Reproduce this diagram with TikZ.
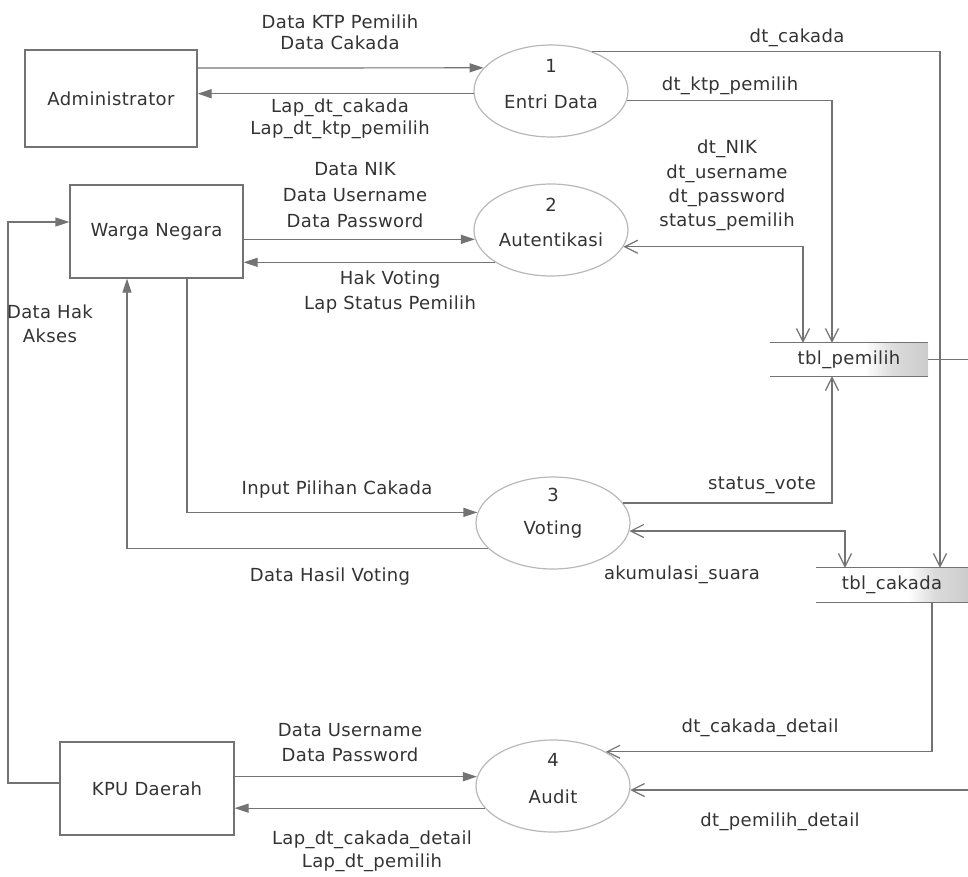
\documentclass[tikz,border=0pt]{standalone}
\usepackage{fontspec}
\setmainfont[LetterSpace=2]{DejaVu Sans}
\usetikzlibrary{arrows.meta,shapes.geometric}
% white body fading to grey at the right end of a data store
% (TikZ maps the node onto the middle 25bp--75bp of the shading)
\pgfdeclarehorizontalshading{storeshade}{100bp}{color(0bp)=(white); color(25bp)=(white); color(55bp)=(white); color(64bp)=(black!14); color(75bp)=(black!20); color(100bp)=(black!20)}
\begin{document}
\begin{tikzpicture}[x=1pt,y=-1pt,
  ftip/.tip={Triangle[length=14pt,width=9pt]},
  otip/.tip={Straight Barb[length=13pt,width=13pt]},
  every node/.style={font=\fontsize{18}{21}\selectfont,text=black!80},
  line/.style={draw=black!55,line width=1.2pt},
  flow/.style={line,-ftip},
  store/.style={line,-otip},
  storeboth/.style={line,otip-otip},
  entity/.style={draw=black!55,line width=1.2pt,rectangle,inner sep=0pt},
  proc/.style={draw=black!28,line width=1.2pt,ellipse,minimum width=154pt,minimum height=92pt,inner sep=0pt},
  datastore/.style={rectangle,inner sep=0pt,shade,shading=storeshade},
  lbl/.style={align=center,inner sep=0pt},
]
\useasboundingbox (0,0) rectangle (968,876);

% external entities
\node[entity,minimum width=172pt,minimum height=97pt] (admin) at (111,98.5) {Administrator};
\node[entity,minimum width=173pt,minimum height=93pt] (wn) at (156.5,231.5) {Warga Negara};
\node[entity,minimum width=174pt,minimum height=93pt] (kpu) at (147,788.5) {KPU Daerah};

% processes
\node[proc] (p1) at (551,91) {};
\node (p1n) at (551,66) {1};
\node (p1t) at (551,102) {Entri Data};
\node[proc] (p2) at (551,230) {};
\node (p2n) at (551,205) {2};
\node (p2t) at (551,240) {Autentikasi};
\node[proc] (p3) at (553,523) {};
\node (p3n) at (553,495) {3};
\node (p3t) at (553,530) {Voting};
\node[proc] (p4) at (553,786) {};
\node (p4n) at (553,760) {4};
\node (p4t) at (553,797) {Audit};

% data stores
\node[datastore,minimum width=158pt,minimum height=33pt] (tp) at (849,359.5) {tbl\_pemilih};
\draw[line] (tp.north west) -- (tp.north east) (tp.south west) -- (tp.south east);
\node[datastore,minimum width=152pt,minimum height=34pt] (tc) at (892,585) {tbl\_cakada};
\draw[line] (tc.north west) -- (tc.north east) (tc.south west) -- (tc.south east);

% flows: Administrator / Entri Data
\draw[flow] (admin.east |- 0,68) -- (p1.161);
\draw[flow] (p1.182) -- (p1.182 -| admin.east);
\draw[store] (p1.44) -| (tc.north -| 940,0);
\draw[store] (p1.353) -| (tp.north -| 832,0);

% flows: Warga Negara / Autentikasi
\draw[flow] (p2.187 -| wn.east) -- (p2.187);
\draw[flow] (p2.210) -- (p2.210 -| wn.east);
\draw[storeboth] (p2.347) -| (tp.north -| 803,0);

% flows: KPU Daerah -> Warga Negara
\draw[flow] (kpu.west |- 0,783) -| (8,222) -- (wn.west |- 0,222);

% flows: Voting
\draw[flow] (wn.south -| 187,0) |- (p3.172);
\draw[flow] (p3.201) -| (wn.south -| 127,0);
\draw[store] (p3.16) -| (tp.south -| 832,0);
\draw[storeboth] (p3.354) -| (tc.north -| 845,0);

% flows: Audit
\draw[flow] (kpu.east |- p4.173) -- (p4.173);
\draw[flow] (p4.198) -- (p4.198 -| kpu.east);
\draw[store] (tc.south -| 932,0) |- (p4.33);
\draw[store] (tp.east) -| (p4.357 -| 970,0) -- (p4.357);

% flow labels
\node[lbl] (l1) at (340,32.5) {Data KTP Pemilih\\Data Cakada};
\node[lbl,font=\fontsize{18}{22}\selectfont] (l2) at (340,119) {Lap\_dt\_cakada\\Lap\_dt\_ktp\_pemilih};
\node[lbl] (l3) at (797,38) {dt\_cakada};
\node[lbl] (l4) at (730,86) {dt\_ktp\_pemilih};
\node[lbl,font=\fontsize{18}{24.3}\selectfont] (l5) at (727,185.5) {dt\_NIK\\dt\_username\\dt\_password\\status\_pemilih};
\node[lbl,font=\fontsize{18}{26}\selectfont] (l6) at (355,195) {Data NIK\\Data Username\\Data Password};
\node[lbl,font=\fontsize{18}{25}\selectfont] (l7) at (390,292.5) {Hak Voting\\Lap Status Pemilih};
\node[lbl,font=\fontsize{18}{24}\selectfont] (l8) at (50,324) {Data Hak\\Akses};
\node[lbl] (l9) at (337,490) {Input Pilihan Cakada};
\node[lbl] (l10) at (330,577) {Data Hasil Voting};
\node[lbl] (l11) at (762,485) {status\_vote};
\node[lbl] (l12) at (682,575) {akumulasi\_suara};
\node[lbl] (l13) at (760,728) {dt\_cakada\_detail};
\node[lbl] (l14) at (780,822) {dt\_pemilih\_detail};
\node[lbl,font=\fontsize{18}{25}\selectfont] (l15) at (350,742.5) {Data Username\\Data Password};
\node[lbl,font=\fontsize{18}{23}\selectfont] (l16) at (372,851.5) {Lap\_dt\_cakada\_detail\\Lap\_dt\_pemilih};
\end{tikzpicture}
\end{document}
